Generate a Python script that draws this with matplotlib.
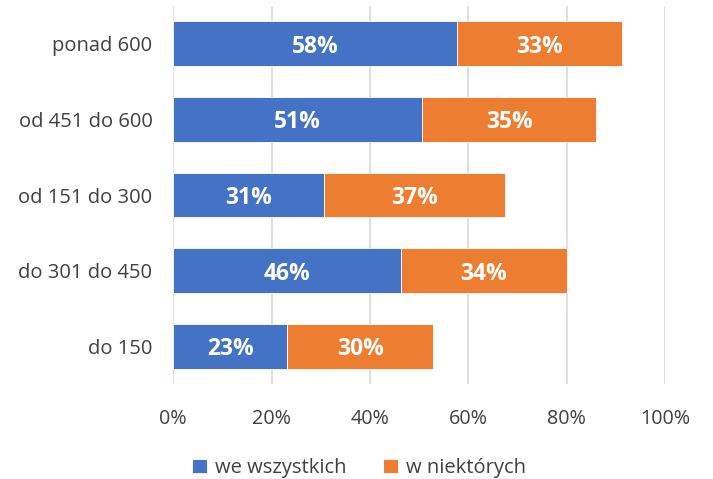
import matplotlib
matplotlib.use("Agg")
import matplotlib.pyplot as plt
from matplotlib.ticker import FuncFormatter

categories = ["ponad 600", "od 451 do 600", "od 151 do 300", "do 301 do 450", "do 150"]
we_wszystkich = [57.8, 50.6, 30.7, 46.3, 23.1]
w_niektorych = [33.4, 35.4, 36.8, 33.7, 29.8]
series_names = ["we wszystkich", "w niektórych"]
x_ticks = [0, 20, 40, 60, 80, 100]

BLUE = "#4472C4"
ORANGE = "#ED7D31"
TXT = "#404040"
FONT = "Open Sans"

plt.rcParams["font.family"] = [FONT, "DejaVu Sans"]

fig = plt.figure(figsize=(7.13, 4.79), dpi=100)
ax = fig.add_axes([0.243, 0.1983, 0.9327 - 0.243, 0.9875 - 0.1983])

ypos = list(range(len(categories)))
b1 = ax.barh(ypos, we_wszystkich, height=0.59, color=BLUE, edgecolor="white", linewidth=0.6,
             label=series_names[0], zorder=3)
b2 = ax.barh(ypos, w_niektorych, left=we_wszystkich, height=0.59, color=ORANGE, edgecolor="white",
             linewidth=0.6, label=series_names[1], zorder=3)

for bars, vals in ((b1, we_wszystkich), (b2, w_niektorych)):
    for rect, v in zip(bars, vals):
        ax.text(rect.get_x() + rect.get_width() / 2, rect.get_y() + rect.get_height() / 2,
                f"{round(v):d}%", ha="center", va="center_baseline", color="white",
                fontsize=16.5, fontweight="bold", zorder=4)

ax.set_xlim(0, 100)
ax.set_ylim(len(categories) - 0.5, -0.5)
ax.set_xticks(x_ticks)
ax.xaxis.set_major_formatter(FuncFormatter(lambda v, p: f"{v:.0f}%"))
ax.set_yticks(ypos)
ax.set_yticklabels(categories)
ax.tick_params(axis="x", length=0, pad=18, labelsize=14.2, labelcolor=TXT)
ax.tick_params(axis="y", length=0, pad=15, labelsize=14.5, labelcolor=TXT)
ax.grid(axis="x", color="#D9D9D9", linewidth=1.2, zorder=0)
ax.set_axisbelow(True)
for s in ax.spines.values():
    s.set_visible(False)

fig.legend(handles=[b1, b2], labels=series_names, loc="center", bbox_to_anchor=(359 / 713, 1 - 468 / 479),
           ncol=2, frameon=False, fontsize=14.5, labelcolor=TXT, handlelength=0.75, handleheight=0.75,
           handletextpad=0.4, columnspacing=1.8)

fig.savefig("out.png", dpi=100)
